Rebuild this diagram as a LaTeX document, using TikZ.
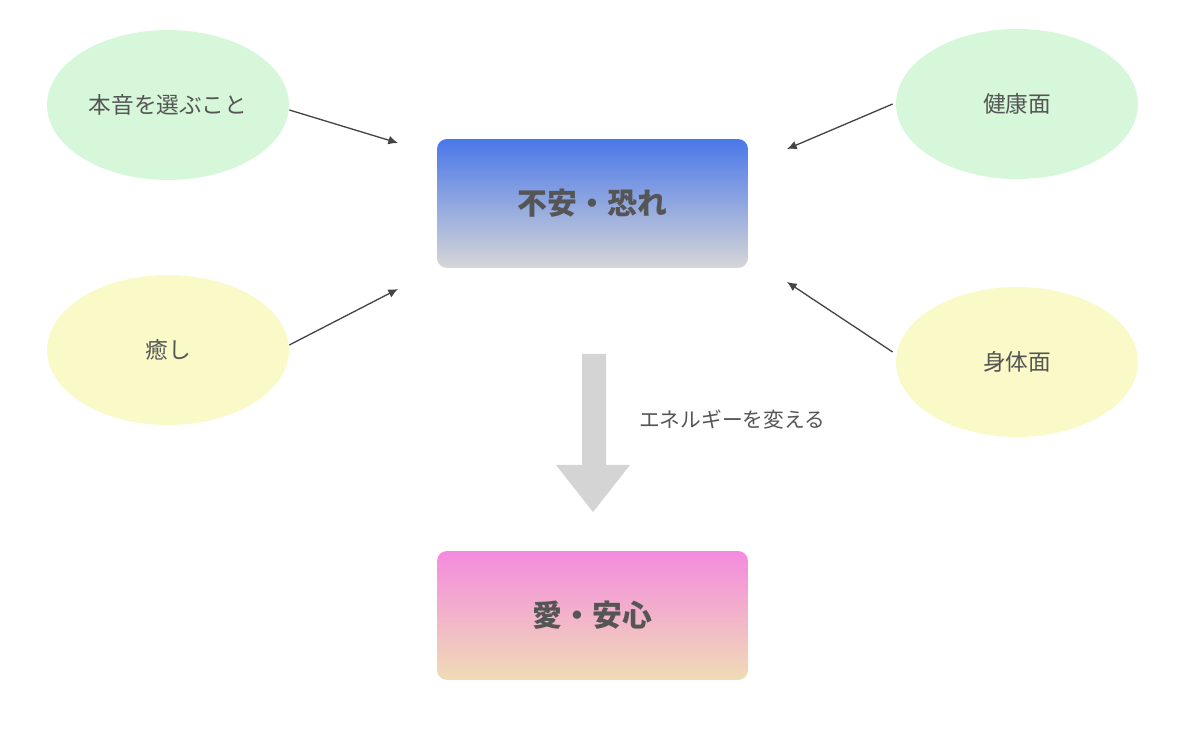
\documentclass[tikz,border=0pt]{standalone}
\usepackage{fontspec}
\usetikzlibrary{shapes.geometric, arrows.meta}
\newfontfamily\jpfont{Noto Sans CJK JP}
\definecolor{txtgray}{HTML}{555555}
\definecolor{linegray}{HTML}{444444}
\definecolor{softgreen}{HTML}{D6F7DA}
\definecolor{softyellow}{HTML}{FAF9C8}
\definecolor{fearblue}{HTML}{4A78EA}
\definecolor{fearbottom}{HTML}{D6D6D6}
\definecolor{lovepink}{HTML}{F48ADE}
\definecolor{lovebottom}{HTML}{F0DCB6}
\definecolor{bigarrow}{HTML}{D4D4D4}
\begin{document}
\begin{tikzpicture}[x=0.02cm, y=-0.02cm,
        bubble/.style={ellipse, minimum width=4.84cm, minimum height=3cm, inner sep=0pt,
            text=txtgray, font=\jpfont\fontsize{12.9}{15}\selectfont},
        statebox/.style={rounded corners=0.2cm, minimum width=6.22cm, minimum height=2.58cm,
            text=txtgray, font=\jpfont\bfseries\fontsize{17}{20}\selectfont},
        link/.style={draw=linegray, line width=0.75pt, -{Latex[length=5.5pt, width=5pt]}}]
    \useasboundingbox (0, 0) rectangle (1200, 732);
    \node[statebox, top color=fearblue, bottom color=fearbottom] (fear) at (592.5, 203.5) {不安・恐れ};
    \node[statebox, top color=lovepink, bottom color=lovebottom] (love) at (592.5, 615.5) {愛・安心};
    \node[bubble, fill=softgreen] (honne) at (168, 105) {本音を選ぶこと};
    \node[bubble, fill=softyellow] (iyashi) at (168, 350) {癒し};
    \node[bubble, fill=softgreen] (kenko) at (1017, 104) {健康面};
    \node[bubble, fill=softyellow] (shintai) at (1017, 362) {身体面};
    \coordinate (tipA) at (398, 143);
    \coordinate (tipB) at (398, 289);
    \coordinate (tipC) at (787, 149);
    \coordinate (tipD) at (787, 282);
    \draw[link] (honne.east) ++ (0, 5) -- (tipA);
    \draw[link] (iyashi.east) ++ (0, -5) -- (tipB);
    \draw[link] (kenko.west) ++ (-3, 0) -- (tipC);
    \draw[link] (shintai.west) ++ (-3, -10) -- (tipD);
    % big arrow
    \fill[bigarrow] (582, 354) -- (606, 354) -- (606, 465) -- (630, 465) -- (593, 512)
        -- (556, 465) -- (582, 465) -- cycle;
    \node[anchor=west, text=txtgray, font=\jpfont\fontsize{11.8}{14}\selectfont] (change) at (633, 420) {エネルギーを変える};
\end{tikzpicture}
\end{document}
